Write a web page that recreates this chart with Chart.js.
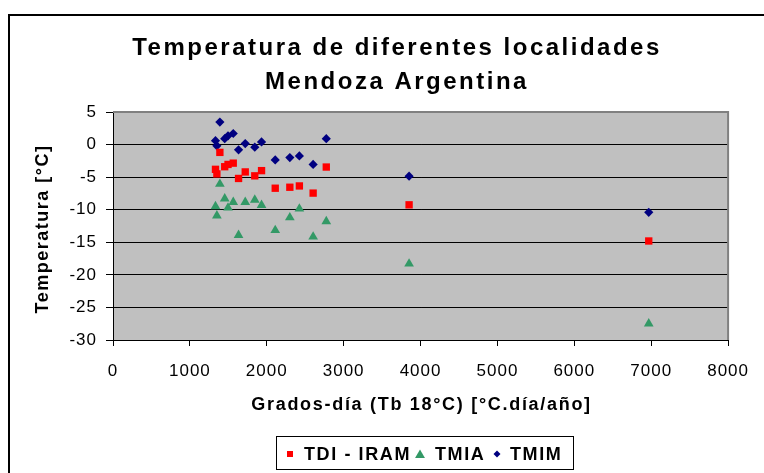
<!DOCTYPE html>
<html><head><meta charset="utf-8">
<script src="https://cdn.jsdelivr.net/npm/chart.js@4.4.0/dist/chart.umd.min.js"></script>
<style>html,body{margin:0;padding:0;background:#fff;overflow:hidden}#wrap{position:relative;width:764px;height:473px}</style>
</head><body><div id="wrap"><canvas id="c"></canvas></div>
<script>
const gradosDia = [1333, 1351, 1390, 1453, 1496, 1564, 1633, 1720, 1844, 1932, 2110, 2300, 2424, 2603, 2774, 3851, 6968];
const tdiIram  = [-3.8, -4.5, -1.2, -3.4, -3.05, -2.85, -5.2, -4.2, -4.8, -4.0, -6.7, -6.55, -6.35, -7.45, -3.45, -9.25, -14.8];
const tmia     = [-9.5, -10.9, -6.05, -8.3, -9.7, -8.85, -13.9, -8.85, -8.5, -9.3, -13.15, -11.2, -9.85, -14.15, -11.8, -18.3, -27.5];
const tmim     = [0.6, -0.2, 3.45, 0.9, 1.35, 1.7, -0.8, 0.15, -0.4, 0.4, -2.35, -2.0, -1.75, -3.05, 0.9, -4.85, -10.4];
const xTicks = [0, 1000, 2000, 3000, 4000, 5000, 6000, 7000, 8000];
const yTicks = [5, 0, -5, -10, -15, -20, -25, -30];
const chartTitle = ['Temperatura de diferentes localidades', 'Mendoza Argentina'];
const xTitle = 'Grados-día (Tb 18°C) [°C.día/año]';
const yTitle = 'Temperatura [°C]';
const seriesNames = ['TDI - IRAM', 'TMIA', 'TMIM'];
const seriesColors = ['#FF0000', '#339966', '#000080'];

const FONT = '"Liberation Sans", Arial, Helvetica, sans-serif';
const toPoints = vals => vals.map((v, i) => ({x: gradosDia[i], y: v}));

function marker(ctx, style, x, y, s, color) {
  ctx.save();
  ctx.fillStyle = color;
  ctx.beginPath();
  if (style === 'rect') {
    ctx.rect(x - s / 2, y - s / 2, s, s);
  } else if (style === 'triangle') {
    ctx.moveTo(x, y - s * 0.5);
    ctx.lineTo(x + s * 0.55, y + s * 0.45);
    ctx.lineTo(x - s * 0.55, y + s * 0.45);
    ctx.closePath();
  } else {
    ctx.moveTo(x, y - s / 2);
    ctx.lineTo(x + s / 2, y);
    ctx.lineTo(x, y + s / 2);
    ctx.lineTo(x - s / 2, y);
    ctx.closePath();
  }
  ctx.fill();
  ctx.restore();
}

const deco = {
  id: 'deco',
  beforeUpdate(chart) { chart.ctx.letterSpacing = '1px'; },
  beforeDraw(chart) {
    const {ctx, chartArea: a} = chart;
    ctx.letterSpacing = '1px';
    ctx.save();
    ctx.fillStyle = '#C0C0C0';
    ctx.fillRect(a.left, a.top, a.right - a.left, a.bottom - a.top);
    ctx.restore();
  },
  beforeDatasetsDraw(chart) {
    const {ctx, chartArea: a} = chart;
    ctx.save();
    ctx.strokeStyle = '#808080';
    ctx.lineWidth = 2;
    ctx.beginPath();
    ctx.moveTo(a.left, a.top);
    ctx.lineTo(a.right, a.top);
    ctx.lineTo(a.right, a.bottom);
    ctx.stroke();
    ctx.restore();
  },
  afterDraw(chart) {
    const {ctx, chartArea: a} = chart;
    ctx.save();
    // outer frame
    ctx.strokeStyle = '#000';
    ctx.lineWidth = 2;
    ctx.beginPath();
    ctx.moveTo(9, 480);
    ctx.lineTo(9, 15);
    ctx.lineTo(780, 15);
    ctx.stroke();

    ctx.fillStyle = '#000';
    // chart title
    ctx.font = 'bold 24px ' + FONT;
    ctx.letterSpacing = '2.5px';
    ctx.textAlign = 'center';
    ctx.textBaseline = 'alphabetic';
    ctx.fillText(chartTitle[0], 397, 55);
    ctx.fillText(chartTitle[1], 397, 89);

    // axis titles
    ctx.font = 'bold 18px ' + FONT;
    ctx.letterSpacing = '1.7px';
    ctx.fillText(xTitle, (a.left + a.right) / 2 + 1, 410);
    ctx.save();
    ctx.translate(48, 229);
    ctx.rotate(-Math.PI / 2);
    ctx.letterSpacing = '1.5px';
    ctx.fillText(yTitle, 0, 0);
    ctx.restore();

    // legend
    ctx.lineWidth = 1;
    ctx.strokeRect(276.5, 436.5, 297, 33);
    ctx.font = 'bold 18px ' + FONT;
    ctx.letterSpacing = '1.6px';
    ctx.textAlign = 'left';
    const styles = ['rect', 'triangle', 'rectRot'];
    const mx = [290, 420, 497];
    const tx = [304, 435, 510];
    const ms = [6, 9, 7];
    for (let i = 0; i < 3; i++) {
      marker(ctx, styles[i], mx[i], 454, ms[i], seriesColors[i]);
      ctx.fillStyle = '#000';
      ctx.fillText(seriesNames[i], tx[i], 460);
    }
    ctx.restore();
    ctx.letterSpacing = '1px';
  }
};

new Chart(document.getElementById('c'), {
  type: 'scatter',
  data: {
    datasets: [
      {label: seriesNames[0], data: toPoints(tdiIram), pointStyle: 'rect', pointRadius: 5.2, backgroundColor: seriesColors[0], borderColor: seriesColors[0], borderWidth: 0},
      {label: seriesNames[1], data: toPoints(tmia), pointStyle: 'triangle', pointRadius: 5.6, backgroundColor: seriesColors[1], borderColor: seriesColors[1], borderWidth: 0},
      {label: seriesNames[2], data: toPoints(tmim), pointStyle: 'rectRot', pointRadius: 4.6, backgroundColor: seriesColors[2], borderColor: seriesColors[2], borderWidth: 0}
    ]
  },
  options: {
    responsive: true,
    maintainAspectRatio: false,
    animation: false,
    events: [],
    layout: {padding: {top: 112, right: 26, bottom: 0, left: 0}},
    plugins: {legend: {display: false}, title: {display: false}, tooltip: {enabled: false}},
    scales: {
      x: {
        type: 'linear', min: 0, max: 8000,
        afterBuildTicks: s => { s.ticks = xTicks.map(v => ({value: v})); },
        afterFit: s => { s.height = 133; },
        ticks: {color: '#000', font: {family: FONT, size: 17}, padding: 15, maxRotation: 0, autoSkip: false, callback: v => String(v)},
        grid: {display: true, drawOnChartArea: false, drawTicks: true, tickLength: 6, color: '#000', lineWidth: 1},
        border: {display: true, color: '#000', width: 1},
        title: {display: false}
      },
      y: {
        type: 'linear', min: -30, max: 5,
        afterBuildTicks: s => { s.ticks = yTicks.slice().reverse().map(v => ({value: v})); },
        afterFit: s => { s.width = 113; },
        ticks: {color: '#000', font: {family: FONT, size: 17}, padding: 9, autoSkip: false, callback: v => String(v)},
        grid: {display: true, drawOnChartArea: true, drawTicks: true, tickLength: 7, color: '#000', lineWidth: 1},
        border: {display: true, color: '#000', width: 1},
        title: {display: false}
      }
    }
  },
  plugins: [deco]
});
</script>
</body></html>
